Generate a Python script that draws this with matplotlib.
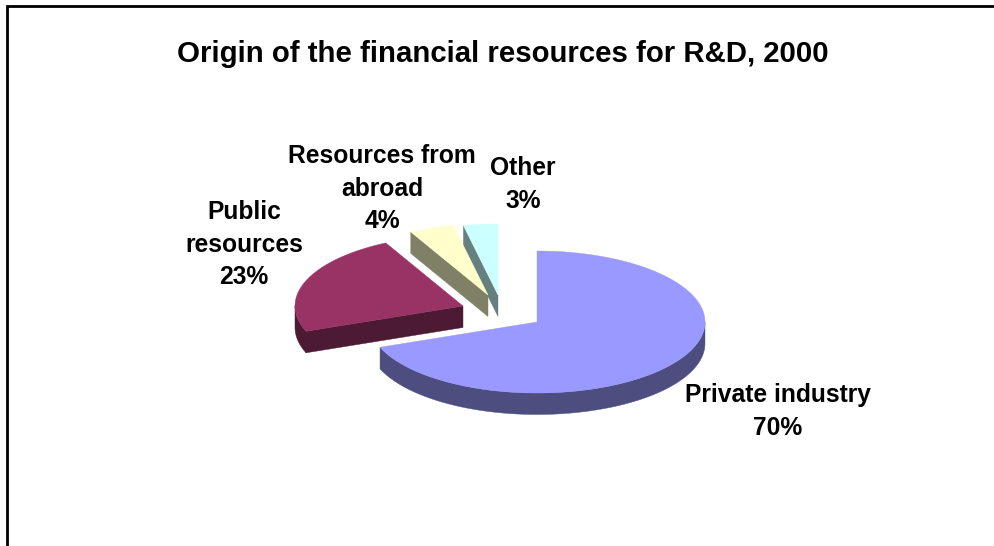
import numpy as np
import matplotlib
matplotlib.use("Agg")
import matplotlib.pyplot as plt
from matplotlib.patches import Polygon

plt.rcParams['font.family'] = ['Liberation Sans', 'DejaVu Sans']

title = "Origin of the financial resources for R&D, 2000"
categories = ["Private industry", "Public\nresources", "Resources from\nabroad", "Other"]
values = [69.2, 23.2, 4.3, 3.3]
percent_labels = ["70%", "23%", "4%", "3%"]

top_colors = ["#9999FF", "#993366", "#FFFFCC", "#CCFFFF"]
side_colors = ["#4D4D80", "#4D1A33", "#808066", "#668080"]
tips = [(537, 322), (463, 306), (488, 295), (498, 295)]
label_pos = [(778, 411.5), (244, 244.5), (382, 188.5), (523, 184.5)]
RX, RY, DEPTH = 168, 71, 21.5

fig = plt.figure(figsize=(9.94, 5.46), dpi=100)
ax = fig.add_axes([0, 0, 1, 1])
ax.set_xlim(0, 994)
ax.set_ylim(546, 0)
ax.axis("off")

# frame, running off the right and bottom of the picture
ax.plot([7, 7, 1000], [552, 5.5, 5.5], color="black", lw=2.0, solid_joinstyle="miter")

def ellipse(tip, t):
    return tip[0] + RX * np.sin(t), tip[1] - RY * np.cos(t)

edges = np.cumsum([0] + values) / sum(values) * 2 * np.pi

for i in range(len(values) - 1, -1, -1):
    a0, a1 = edges[i], edges[i + 1]
    tip = tips[i]
    t = np.linspace(a0, a1, 200)
    x, y = ellipse(tip, t)
    # radial wall below the leading edge, for slices on the left half
    if a0 > np.pi:
        ex, ey = ellipse(tip, a0)
        ax.add_patch(Polygon([(tip[0], tip[1]), (ex, ey), (ex, ey + DEPTH),
                              (tip[0], tip[1] + DEPTH)],
                             closed=True, fc=side_colors[i], ec=side_colors[i], lw=0.3))
    # outer rim wall where the rim faces the viewer
    lo, hi = max(a0, np.pi / 2), min(a1, 3 * np.pi / 2)
    if hi > lo:
        tw = np.linspace(lo, hi, 200)
        wx, wy = ellipse(tip, tw)
        pts = np.column_stack([np.r_[wx, wx[::-1]], np.r_[wy, wy[::-1] + DEPTH]])
        ax.add_patch(Polygon(pts, closed=True, fc=side_colors[i], ec=side_colors[i], lw=0.3))
    # top face
    pts = np.column_stack([np.r_[tip[0], x], np.r_[tip[1], y]])
    ax.add_patch(Polygon(pts, closed=True, fc=top_colors[i], ec=top_colors[i], lw=0.3))

ax.text(503, 54, title, ha="center", va="center", fontsize=21.2, fontweight="bold", color="black")

for cat, pct, (lx, ly) in zip(categories, percent_labels, label_pos):
    ax.text(lx, ly, f"{cat}\n{pct}", ha="center", va="center", fontsize=17.7,
            fontweight="bold", color="black", linespacing=1.44)

fig.savefig("out.png", dpi=100)
